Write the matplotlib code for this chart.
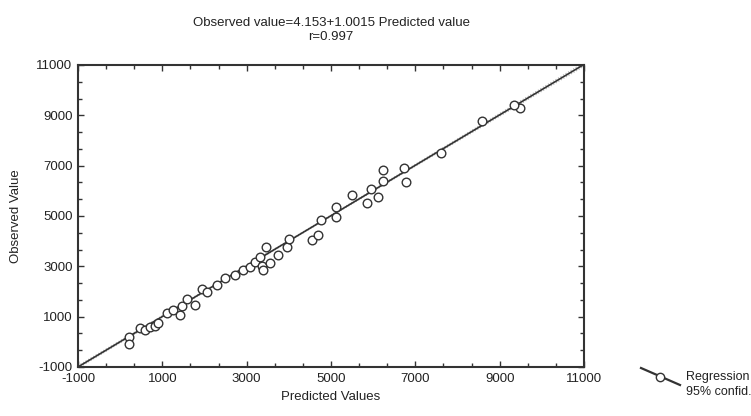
import numpy as np
import matplotlib
matplotlib.use('Agg')
import matplotlib.pyplot as plt
from matplotlib.lines import Line2D

plt.rcParams['font.family'] = ['Liberation Sans', 'DejaVu Sans']
plt.rcParams['axes.unicode_minus'] = False

# values
predicted = [220, 220, 470, 590, 710, 830, 900, 1100, 1260, 1420, 1460, 1580,
             1770, 1930, 2050, 2300, 2490, 2720, 2920, 3080, 3200, 3320, 3360,
             3390, 3470, 3550, 3750, 3950, 4010, 4540, 4680, 4760, 5130, 5130,
             5490, 5850, 5960, 6120, 6240, 6240, 6720, 6790, 7620, 8570, 9480, 9350]
observed = [180, -90, 540, 470, 580, 630, 750, 1160, 1260, 1070, 1420, 1700,
            1460, 2090, 1980, 2250, 2520, 2650, 2850, 2980, 3180, 3360, 3010,
            2850, 3760, 3140, 3450, 3760, 4070, 4050, 4240, 4840, 4970, 5370,
            5830, 5500, 6060, 5770, 6400, 6830, 6890, 6360, 7490, 8770, 9280, 9400]
intercept = 4.153
slope = 1.0015
r_value = 0.997
tick_vals = [-1000, 1000, 3000, 5000, 7000, 9000, 11000]

x = np.array(predicted, dtype=float)
y = np.array(observed, dtype=float)

fig = plt.figure(figsize=(7.51, 4.16), dpi=100)
ax = fig.add_axes([0.1039, 0.1178, 0.6737, 0.726])

col = '#333333'

# regression line and confidence band (band hugs the line in the original)
xs = np.linspace(-1000, 11000, 200)
fit = intercept + slope * xs
n = len(x)
resid = y - (intercept + slope * x)
s = np.sqrt(np.sum(resid ** 2) / (n - 2))
se = s * np.sqrt(1.0 / n + (xs - x.mean()) ** 2 / np.sum((x - x.mean()) ** 2))
ax.plot(xs, fit + 0.6 * se, ':', color='#a8a8a8', lw=0.8)
ax.plot(xs, fit - 0.6 * se, ':', color='#a8a8a8', lw=0.8)
ax.plot(xs, fit, '-', color=col, lw=1.2)

ax.plot(x, y, 'o', mfc='white', mec=col, mew=1.0, ms=6.2, ls='none')

ax.set_xlim(-1000, 11000)
ax.set_ylim(-1000, 11000)
ax.set_xticks(tick_vals)
ax.set_yticks(tick_vals)
minor = np.arange(-1000, 11001, 2000 / 3)
ax.set_xticks(minor, minor=True)
ax.set_yticks(minor, minor=True)
ax.tick_params(which='both', direction='in', top=True, right=True,
               color=col, width=1.0, labelsize=9.5, labelcolor='#222222')
ax.tick_params(which='major', length=4, pad=4)
ax.tick_params(which='minor', length=3)
for sp in ax.spines.values():
    sp.set_linewidth(1.5)
    sp.set_color(col)

ax.set_xlabel('Predicted Values', fontsize=9.5, color='#222222', labelpad=5)
ax.set_ylabel('Observed Value', fontsize=9.5, color='#222222', labelpad=10)
ax.set_title('Observed value=%.3f+%.4f Predicted value\nr=%.3f' % (intercept, slope, r_value),
             fontsize=9.5, color='#222222', pad=18, linespacing=1.25)

# legend drawn outside the axes
fig.add_artist(Line2D([641 / 751, 680 / 751], [1 - 368 / 416, 1 - 385 / 416],
                      color=col, lw=1.6, transform=fig.transFigure))
fig.add_artist(Line2D([660 / 751], [1 - 376.5 / 416], marker='o', mfc='white',
                      mec=col, mew=1.0, ms=6, transform=fig.transFigure))
fig.text(686 / 751, 1 - 377 / 416, 'Regression', fontsize=9, va='center', color='#222222')
fig.text(686 / 751, 1 - 392 / 416, '95% confid.', fontsize=9, va='center', color='#222222')

fig.savefig('out.png', dpi=100)
